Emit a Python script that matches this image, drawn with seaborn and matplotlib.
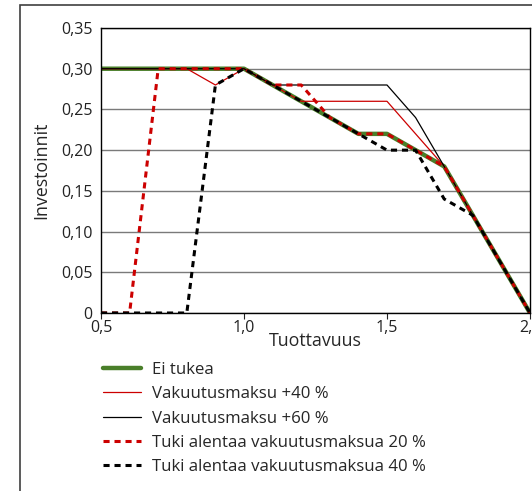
import numpy as np
import pandas as pd
import matplotlib
import matplotlib.pyplot as plt
import seaborn as sns
from matplotlib.patches import Rectangle
from matplotlib.ticker import FuncFormatter

matplotlib.use('Agg')

# data
tuottavuus = [0.5, 0.6, 0.7, 0.8, 0.9, 1.0, 1.1, 1.2, 1.3, 1.4, 1.5, 1.6, 1.7, 1.8, 1.9, 2.0]
ei_tukea = [0.30, 0.30, 0.30, 0.30, 0.30, 0.30, 0.28, 0.26, 0.24, 0.22, 0.22, 0.20, 0.18, 0.12, 0.06, 0.00]
vakuutus_40 = [0.30, 0.30, 0.30, 0.30, 0.28, 0.30, 0.28, 0.26, 0.26, 0.26, 0.26, 0.22, 0.18, 0.12, 0.06, 0.00]
vakuutus_60 = [0.30, 0.30, 0.30, 0.30, 0.30, 0.30, 0.28, 0.28, 0.28, 0.28, 0.28, 0.24, 0.18, 0.12, 0.06, 0.00]
tuki_20 = [0.00, 0.00, 0.30, 0.30, 0.30, 0.30, 0.28, 0.28, 0.24, 0.22, 0.22, 0.20, 0.18, 0.12, 0.06, 0.00]
tuki_40 = [0.00, 0.00, 0.00, 0.00, 0.28, 0.30, 0.28, 0.26, 0.24, 0.22, 0.20, 0.20, 0.14, 0.12, 0.06, 0.00]

labels = ['Ei tukea', 'Vakuutusmaksu +40 %', 'Vakuutusmaksu +60 %',
          'Tuki alentaa vakuutusmaksua 20 %', 'Tuki alentaa vakuutusmaksua 40 %']
series = [ei_tukea, vakuutus_40, vakuutus_60, tuki_20, tuki_40]

sns.set_style('white')
plt.rcParams['font.family'] = ['Open Sans', 'DejaVu Sans']

fig = plt.figure(figsize=(5.32, 4.91), dpi=100)
ax = fig.add_axes([101 / 532, 1 - 313 / 491, 429 / 532, 285 / 491])

# outer frame of the original figure
fig.patches.append(Rectangle((20 / 532, -0.1), 1.2, 1.1 - 5 / 491, transform=fig.transFigure,
                             fill=False, edgecolor='#404040', linewidth=1.2, zorder=0))

styles = [
    dict(color='#4a7f2a', linewidth=3.2),
    dict(color='#cc0000', linewidth=0.9),
    dict(color='black', linewidth=0.9),
    dict(color='#cc0000', linewidth=2.2, dashes=(2.0, 1.6)),
    dict(color='black', linewidth=2.2, dashes=(2.0, 1.6)),
]

for vals, lab, st in zip(series, labels, styles):
    df = pd.DataFrame({'x': tuottavuus, 'y': vals})
    dashes = st.pop('dashes', None)
    sns.lineplot(data=df, x='x', y='y', ax=ax, label=lab, **st)
    if dashes is not None:
        ax.lines[-1].set_dashes(dashes)

ax.set_xlim(0.5, 2.0)
ax.set_ylim(0, 0.35)
ax.set_xticks([0.5, 1.0, 1.5, 2.0])
ax.set_yticks(np.arange(0, 0.351, 0.05))
ax.xaxis.set_major_formatter(FuncFormatter(lambda v, p: f'{v:.1f}'.replace('.', ',')))
ax.yaxis.set_major_formatter(FuncFormatter(lambda v, p: '0' if abs(v) < 1e-9 else f'{v:.2f}'.replace('.', ',')))
ax.grid(axis='y', color='#7a7a7a', linewidth=1.0)
ax.set_axisbelow(True)
for s in ax.spines.values():
    s.set_color('black')
    s.set_linewidth(1.0)
ax.tick_params(axis='both', labelsize=11.5, colors='#222222', length=4, width=0.8, pad=2,
               bottom=True, left=False)
ax.tick_params(axis='x', pad=1)
ax.set_xlabel('Tuottavuus', fontsize=12.8, labelpad=-3)
ax.set_ylabel('Investoinnit', fontsize=12.8, labelpad=8)

handles, labs = ax.get_legend_handles_labels()
ax.get_legend().remove()
fig.legend(handles, labs, loc='upper left', bbox_to_anchor=(96 / 532, 1 - 355 / 491),
           frameon=False, fontsize=12.1, handlelength=2.3, handletextpad=0.65,
           labelspacing=0.5, borderaxespad=0)

fig.savefig('out.png', dpi=100)
plt.close(fig)
